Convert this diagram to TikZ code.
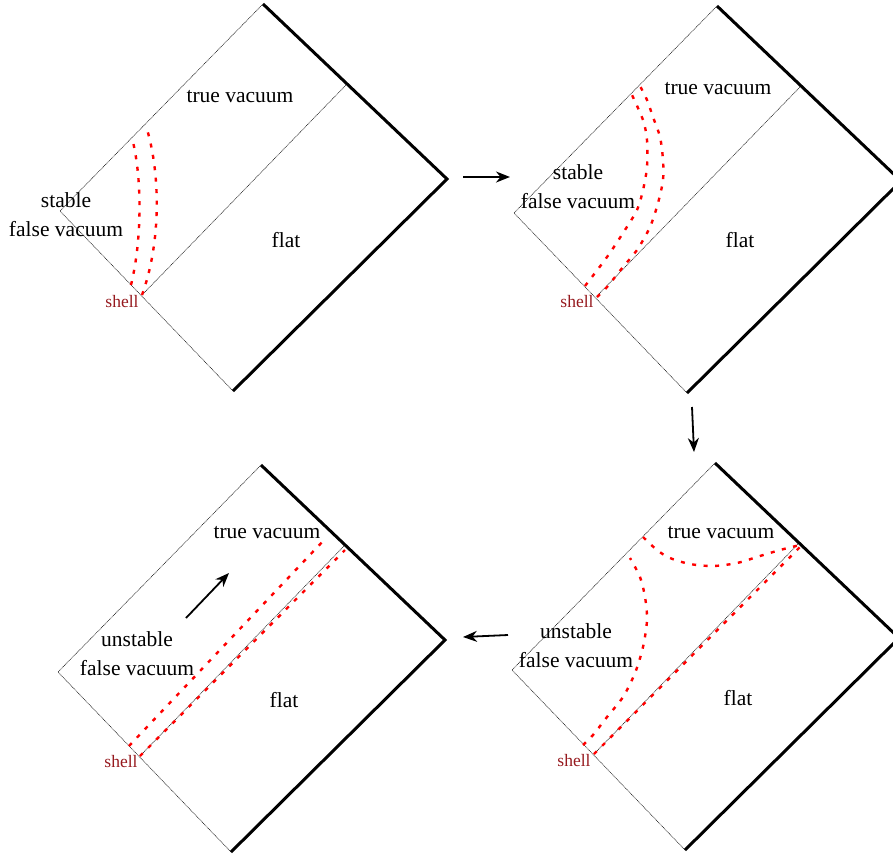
\documentclass[tikz,border=0pt]{standalone}
\usepackage{fontspec}
\setmainfont{Liberation Serif}
\usetikzlibrary{arrows.meta,calc}
\definecolor{shellred}{RGB}{150,25,30}
\newcommand{\diagframe}[1]{%
  \coordinate (#1T) at (263,4);
  \coordinate (#1R) at (447,179);
  \coordinate (#1B) at (233,391);
  \coordinate (#1L) at (60,211);
  \coordinate (#1P) at (346,85);
  \coordinate (#1Q) at (142,295);
  \draw[thinedge] (#1B) -- (#1L) -- (#1T);
  \draw[thinedge] (#1P) -- (#1Q);
  \draw[thickedge] (#1T) -- (#1R) -- (#1B);
}
\begin{document}
\begin{tikzpicture}[x=1pt,y=-1pt,
  thinedge/.style={line width=0.6pt, black!85, dash pattern=on 1pt off 0.7pt},
  thickedge/.style={line width=3pt, line join=miter},
  shellline/.style={red, line width=2.4pt, dash pattern=on 4pt off 7.5pt},
  lbl/.style={font=\fontsize{21.5}{26}\selectfont, anchor=base, inner sep=0pt},
  shelllbl/.style={font=\fontsize{17.5}{20}\selectfont, text=shellred, anchor=base, inner sep=0pt},
  flow/.style={line width=1.8pt, -{Stealth[length=14pt,width=11pt,inset=4.5pt]}},
]
\useasboundingbox (0,0) rectangle (893,857);
\clip (0,0) rectangle (893,857);

% ---------- panel 1 (top left)
\begin{scope}
  \diagframe{a}
  \draw[shellline] (131,285) .. controls (142,240) and (142,180) .. (133,142);
  \draw[shellline] (aQ) .. controls (162,240) and (160,170) .. (146,126);
  \node[lbl] (a-tv) at (240,102.5) {true vacuum};
  \node[lbl] (a-st) at (66,207.5) {stable};
  \node[lbl] (a-fv) at (66,236.5) {false vacuum};
  \node[lbl] (a-fl) at (286,247.5) {flat};
  \node[shelllbl] (a-sh) at (122,307) {shell};
\end{scope}

% ---------- panel 2 (top right)
\begin{scope}[shift={(454,2)}]
  \diagframe{b}
  \draw[shellline] plot[smooth] coordinates {(131,284) (153,255) (169,231) (183,208) (189,188) (193,165) (193,138) (189,118) (178,93)};
  \draw[shellline] plot[smooth] coordinates {(143,295) (153,285) (169,265) (183,248) (196,225) (204,201) (209,178) (209,158) (206,135) (199,115) (193,98) (186,84)};
  \node[lbl] (b-tv) at (264,92.5) {true vacuum};
  \node[lbl] (b-st) at (124,177.5) {stable};
  \node[lbl] (b-fv) at (124,206.5) {false vacuum};
  \node[lbl] (b-fl) at (286,245.5) {flat};
  \node[shelllbl] (b-sh) at (123,305) {shell};
\end{scope}

% ---------- panel 3 (bottom right)
\begin{scope}[shift={(452,459)}]
  \diagframe{c}
  \draw[shellline] plot[smooth] coordinates {(131,286) (141,276) (155,258) (171,238) (183,214) (191,188) (195,161) (193,138) (188,118) (178,99)};
  \draw[shellline] plot[smooth] coordinates {(191,78) (205,91) (218,99) (238,105) (261,107) (285,104) (308,97) (328,91) (348,86)};
  \draw[shellline] (cQ) -- ($(cP)+(3,2)$);
  \node[lbl] (c-tv) at (269,79.5) {true vacuum};
  \node[lbl] (c-st) at (124,179.5) {unstable};
  \node[lbl] (c-fv) at (124,208.5) {false vacuum};
  \node[lbl] (c-fl) at (286,246.5) {flat};
  \node[shelllbl] (c-sh) at (122,307) {shell};
\end{scope}

% ---------- panel 4 (bottom left)
\begin{scope}[shift={(-2,461)}]
  \diagframe{d}
  \draw[shellline] (131,285) -- (327,78);
  \draw[shellline] (dQ) -- ($(dP)+(1,4)$);
  \coordinate (d-a0) at (188,157);
  \coordinate (d-a1) at (231,112);
  \draw[flow] (d-a0) -- (d-a1);
  \node[lbl] (d-tv) at (269,77.5) {true vacuum};
  \node[lbl] (d-st) at (139,185.5) {unstable};
  \node[lbl] (d-fv) at (139,214.5) {false vacuum};
  \node[lbl] (d-fl) at (286,246.5) {flat};
  \node[shelllbl] (d-sh) at (123,306) {shell};
\end{scope}

% ---------- arrows between panels
\coordinate (m1a) at (463,177);
\coordinate (m1b) at (510,177);
\coordinate (m2a) at (692,407);
\coordinate (m2b) at (694,452);
\coordinate (m3a) at (508,635);
\coordinate (m3b) at (463,637);
\draw[flow] (m1a) -- (m1b);
\draw[flow] (m2a) -- (m2b);
\draw[flow] (m3a) -- (m3b);
\end{tikzpicture}
\end{document}
